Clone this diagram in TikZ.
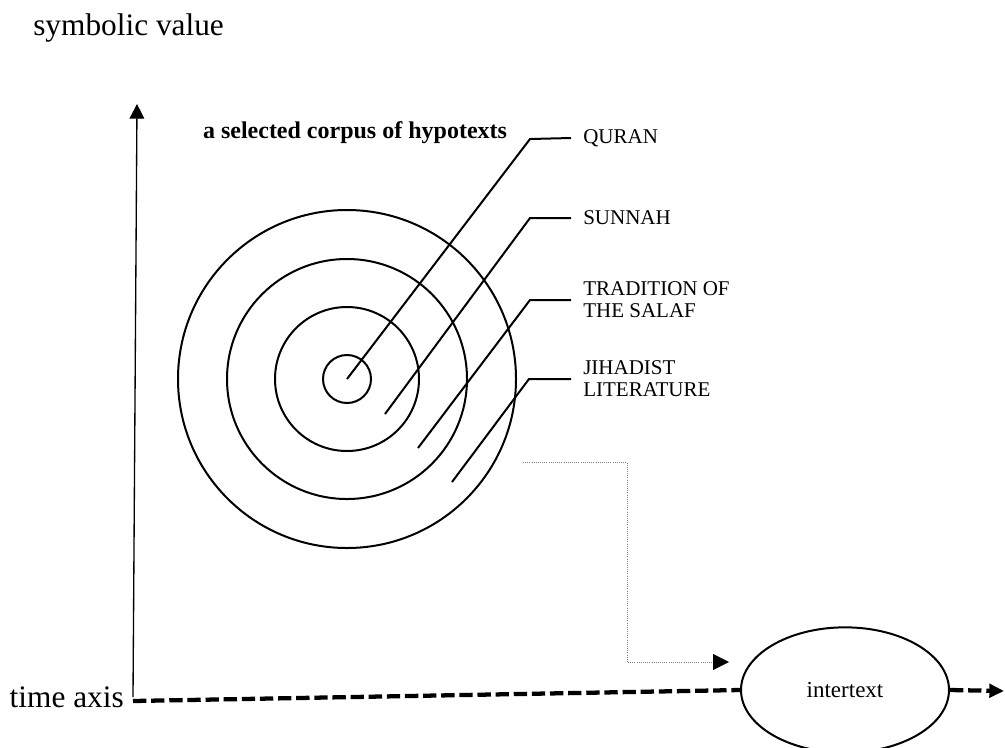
\documentclass[tikz,border=0pt]{standalone}
\usepackage{fontspec}
\setmainfont{Liberation Serif}
\usetikzlibrary{shapes.geometric,arrows.meta}
\tikzstyle{ring} = [line width=1.5pt]
\tikzstyle{leader} = [line width=1.5pt]
\tikzstyle{tag} = [anchor=west, align=left, inner xsep=9pt, inner ysep=0pt, font=\fontsize{15.75}{16.5}\selectfont]
\tikzstyle{axis} = [line width=1pt, -{Triangle[length=11pt,width=11pt]}]
\tikzstyle{timeline} = [line width=3.2pt, dash pattern=on 10pt off 3.6pt]
\tikzstyle{feed} = [gray, line width=0.6pt, densely dotted, -{Triangle[length=12pt,width=12pt,color=black]}]

\begin{document}
\begin{tikzpicture}[x=0.75pt, y=-0.75pt]
    \useasboundingbox (0,0) rectangle (1005,747);
    % axes
    \node[anchor=base west, inner sep=0pt, font=\fontsize{23.5}{25}\selectfont] (yname) at (33,35) {symbolic value};
    \node[anchor=base east, inner sep=0pt, font=\fontsize{23.5}{25}\selectfont] (tname) at (124,707) {time axis};
    \coordinate (origin) at (133,701);
    \coordinate (ybase) at (133,697);
    \coordinate (ytop) at (137,104);
    \coordinate (tend) at (1004,691);
    \node[draw, ellipse, line width=1.5pt, minimum width=156pt, minimum height=94pt, inner sep=0pt, font=\fontsize{17.25}{18}\selectfont] (inter) at (845,690) {intertext};
    \draw[axis] (ybase) -- (ytop);
    \draw[timeline] (origin) -- (inter.west);
    \draw[timeline, -{Triangle[length=11pt,width=10pt]}] (inter.east) -- (tend);
    % hypotexts
    \node[font=\bfseries\fontsize{18}{19}\selectfont] (corpus) at (355,133) {a selected corpus of hypotexts};
    \coordinate (hub) at (347,379);
    \foreach \r in {24,72,120,169}
        \draw[ring] (hub) circle (\r);
    \node[tag] (quran) at (571,138) {QURAN};
    \node[tag] (sunnah) at (571,218) {SUNNAH};
    \node[tag] (salaf) at (571,300) {TRADITION OF\\THE SALAF};
    \node[tag] (jihad) at (571,379) {JIHADIST\\LITERATURE};
    \draw[leader] (hub) -- (530,139) -- (quran.west);
    \draw[leader] (385,414) -- (530,218) -- (sunnah.west);
    \draw[leader] (418,448) -- (530,300) -- (salaf.west);
    \draw[leader] (452,482) -- (529,379) -- (jihad.west);
    % link to the intertext
    \coordinate (src) at (523,462);
    \coordinate (dst) at (729,662);
    \draw[feed] (src) -- ++(104,0) |- (dst);
\end{tikzpicture}
\end{document}
